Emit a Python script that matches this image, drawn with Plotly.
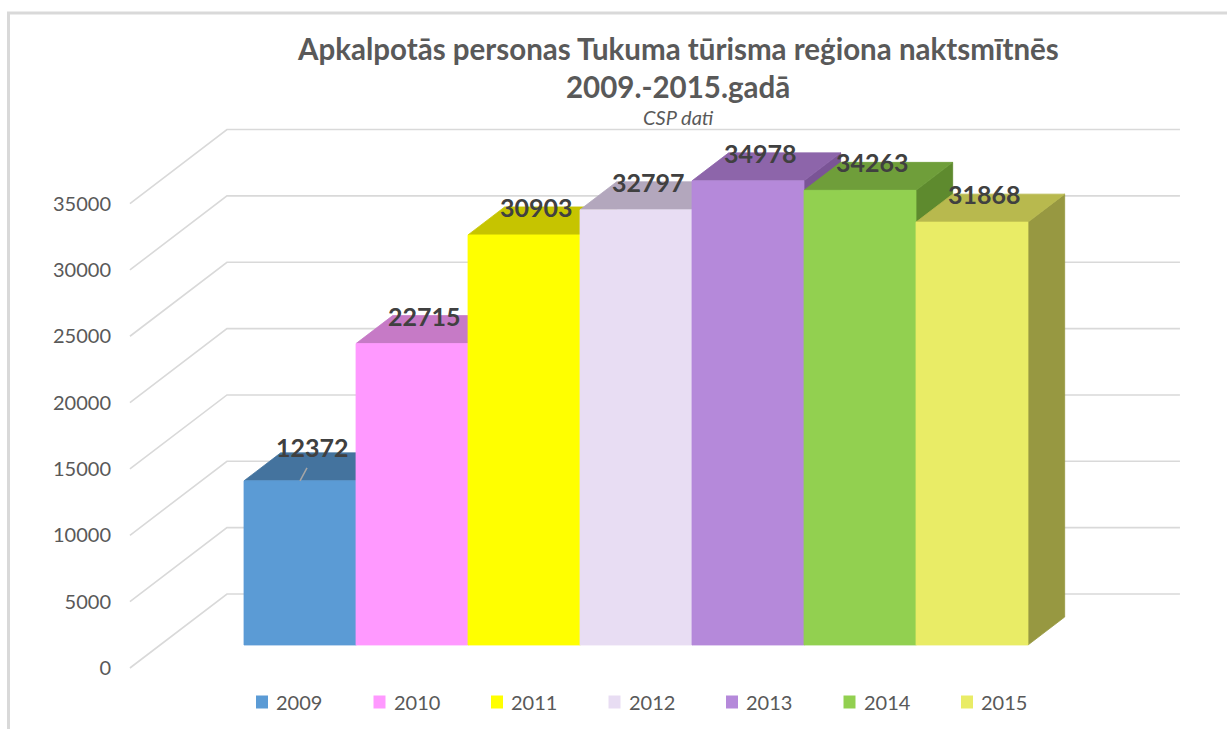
import plotly.graph_objects as go

# ---------------- data ----------------
years = ["2009", "2010", "2011", "2012", "2013", "2014", "2015"]
values = [12372, 22715, 30903, 32797, 34978, 34263, 31868]
tick_values = [0, 5000, 10000, 15000, 20000, 25000, 30000, 35000]
title_line1 = "Apkalpotās personas Tukuma tūrisma reģiona naktsmītnēs"
title_line2 = "2009.-2015.gadā"
subtitle = "CSP dati"

# ---------------- style ----------------
front_colors = ["#5B9BD5", "#FF99FF", "#FFFF00", "#E8DDF3", "#B589DA", "#92D050", "#E9EC66"]
top_colors = ["#44739E", "#C67AC6", "#C6C400", "#B3A7BD", "#8D65AA", "#6F9E3A", "#B8B94E"]
side_colors = ["#3B6690", "#B066B0", "#A8A600", "#9C90A6", "#7A5496", "#5E8A2E", "#979841"]

W, H = 1227, 729
PX_X = 112.0          # pixels per category slot
PX_V = 0.01327        # pixels per value unit
ORIGIN_PX = (300.0, 645.0)   # screen position of slot 0 centre / value 0 on the bar front plane
DEPTH_VEC = (97.0, 74.0)     # screen shift (px) from floor front to back wall
BAR_D0, BAR_D1 = 0.311, 0.689
WALL_X = -1.249       # left wall position (slot units, bar-front plane)
RIGHT_X = 7.26        # right end of back wall
GRID_COLOR = "#D9D9D9"
TEXT_COLOR = "#595959"
LABEL_COLOR = "#404040"
FONT = "Lato"
LEGEND_X0, LEGEND_STEP, LEGEND_Y = 256.0, 117.5, 702.0
TICK_AXIS_PX = 111.0

x_range = [-ORIGIN_PX[0] / PX_X, (W - ORIGIN_PX[0]) / PX_X]
y_range = [-(H - ORIGIN_PX[1]) / PX_V, ORIGIN_PX[1] / PX_V]


def proj(x, v, d):
    """project a point (slot x, value v, depth d) onto the 2D axes"""
    return (x + (d - BAR_D0) * DEPTH_VEC[0] / PX_X,
            v + (d - BAR_D0) * DEPTH_VEC[1] / PX_V)


def poly(points, color):
    xs = [p[0] for p in points] + [points[0][0]]
    ys = [p[1] for p in points] + [points[0][1]]
    return go.Scatter(x=xs, y=ys, mode="lines", fill="toself", fillcolor=color,
                      line=dict(width=0.8, color=color), hoverinfo="skip", showlegend=False)


fig = go.Figure()

# gridlines (floor diagonal + back wall)
gx, gy = [], []
for v in tick_values:
    for p in (proj(WALL_X, v, 0.0), proj(WALL_X, v, 1.0), proj(RIGHT_X, v, 1.0)):
        gx.append(p[0]); gy.append(p[1])
    gx.append(None); gy.append(None)
fig.add_trace(go.Scatter(x=gx, y=gy, mode="lines", line=dict(color=GRID_COLOR, width=1.6),
                         hoverinfo="skip", showlegend=False))

# bars (drawn left to right so nearer faces overwrite)
for i, v in enumerate(values):
    L, R = i - 0.5, i + 0.5
    side = [proj(R, 0, BAR_D0), proj(R, v, BAR_D0), proj(R, v, BAR_D1), proj(R, 0, BAR_D1)]
    top = [proj(L, v, BAR_D0), proj(R, v, BAR_D0), proj(R, v, BAR_D1), proj(L, v, BAR_D1)]
    front = [proj(L, 0, BAR_D0), proj(R, 0, BAR_D0), proj(R, v, BAR_D0), proj(L, v, BAR_D0)]
    fig.add_trace(poly(side, side_colors[i]))
    fig.add_trace(poly(top, top_colors[i]))
    fig.add_trace(poly(front, front_colors[i]))

annotations = []
shapes = []
# data labels
for i, v in enumerate(values):
    lx, ly = proj(i, v, BAR_D1)
    yshift = 6 if i == 0 else 0
    annotations.append(dict(x=i, y=ly, xref="x", yref="y", text="<b>%d</b>" % v, showarrow=False,
                            xshift=12, yshift=yshift, xanchor="center", yanchor="middle",
                            font=dict(family=FONT, size=25, color=LABEL_COLOR)))
# leader line for first label
fig.add_trace(go.Scatter(x=[0, 0 + 7 / PX_X], y=[values[0], values[0] + 13 / PX_V], mode="lines",
                         line=dict(color="#A6A6A6", width=1.5), hoverinfo="skip", showlegend=False))

# value axis (front edge of the floor) -- shifted copy of y so ticks sit on the front gridline ends
front_offset = proj(WALL_X, 0, 0.0)[1]
fig.add_trace(go.Scatter(x=[None], y=[None], yaxis="y2", showlegend=False, hoverinfo="skip"))

# legend (square swatch + label per year)
for i, yr in enumerate(years):
    cx = LEGEND_X0 + LEGEND_STEP * i
    shapes.append(dict(type="rect", xref="paper", yref="paper",
                       x0=cx / W, x1=(cx + 12) / W, y0=1 - (LEGEND_Y + 6.5) / H, y1=1 - (LEGEND_Y - 6.5) / H,
                       fillcolor=front_colors[i], line=dict(width=0)))
    annotations.append(dict(x=(cx + 18) / W, y=1 - LEGEND_Y / H, xref="paper", yref="paper", text=yr,
                            showarrow=False, xanchor="left", yanchor="middle",
                            font=dict(family=FONT, size=20, color=TEXT_COLOR)))

# titles
annotations.append(dict(x=678 / W, y=1 - 48 / H, xref="paper", yref="paper", text="<b>%s</b>" % title_line1,
                        showarrow=False, xanchor="center", yanchor="middle",
                        font=dict(family=FONT, size=29.5, color=TEXT_COLOR)))
annotations.append(dict(x=678 / W, y=1 - 86 / H, xref="paper", yref="paper", text="<b>%s</b>" % title_line2,
                        showarrow=False, xanchor="center", yanchor="middle",
                        font=dict(family=FONT, size=29.5, color=TEXT_COLOR)))
annotations.append(dict(x=678 / W, y=1 - 117 / H, xref="paper", yref="paper", text="<i>%s</i>" % subtitle,
                        showarrow=False, xanchor="center", yanchor="middle",
                        font=dict(family=FONT, size=20, color=TEXT_COLOR)))

shapes += [
    dict(type="line", xref="paper", yref="paper", x0=7 / W, x1=1, y0=1 - 13 / H, y1=1 - 13 / H,
         line=dict(color=GRID_COLOR, width=3)),
    dict(type="line", xref="paper", yref="paper", x0=8.5 / W, x1=8.5 / W, y0=0, y1=1 - 13 / H,
         line=dict(color=GRID_COLOR, width=3)),
]

fig.update_layout(
    width=W, height=H, margin=dict(l=0, r=0, t=0, b=0),
    paper_bgcolor="white", plot_bgcolor="white",
    xaxis=dict(range=x_range, visible=False, fixedrange=True),
    yaxis=dict(range=y_range, visible=False, fixedrange=True),
    yaxis2=dict(range=[y_range[0] - front_offset, y_range[1] - front_offset], overlaying="y",
                anchor="free", position=TICK_AXIS_PX / W, side="left",
                tickmode="array", tickvals=tick_values, ticktext=[str(v) for v in tick_values],
                showgrid=False, zeroline=False, showline=False, ticks="",
                tickfont=dict(family=FONT, size=20, color=TEXT_COLOR), fixedrange=True),
    showlegend=False,
    annotations=annotations, shapes=shapes,
)

fig.write_html("out.html", config={"displayModeBar": False},
               post_script="document.body.style.margin='0px';")
